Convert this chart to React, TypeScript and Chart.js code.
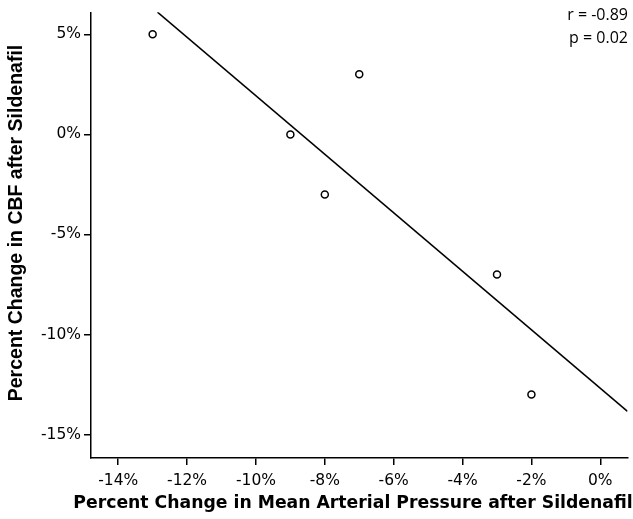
import React, { useEffect, useRef } from "react";
import { Chart, registerables } from "chart.js";

Chart.register(...registerables);

const mapChange = [-13, -9, -8, -7, -3, -2];
const cbfChange = [5, 0, -3, 3, -7, -13];
const fitX = [-12.86, 0.79];
const fitY = [6.11, -13.84];
const xTickValues = [-14, -12, -10, -8, -6, -4, -2, 0];
const yTickValues = [-15, -10, -5, 0, 5];
const statLines = ["r = -0.89", "p = 0.02"];
const xTitle = "Percent Change in Mean Arterial Pressure after Sildenafil";
const yTitle = "Percent Change in CBF after Sildenafil";

const overlayPlugin = {
  id: "overlay",
  afterDraw(chart: any) {
    const ctx = chart.ctx;
    ctx.save();
    ctx.fillStyle = "#000";
    // stats
    ctx.font = "16px 'Open Sans', 'DejaVu Sans', sans-serif";
    ctx.textAlign = "right";
    ctx.textBaseline = "middle";
    statLines.forEach((t, i) => ctx.fillText(t, 628, 15 + i * 23));
    // x title
    ctx.font = "bold 17.25px 'DejaVu Sans', sans-serif";
    ctx.textAlign = "center";
    ctx.fillText(xTitle, 353, 504);
    // y title
    ctx.translate(17, 223);
    ctx.rotate(-Math.PI / 2);
    ctx.font = "bold 19.5px 'Liberation Sans', Arial, sans-serif";
    ctx.fillText(yTitle, 0, 0);
    ctx.restore();
  },
};

export default function App() {
  const ref = useRef<HTMLCanvasElement>(null);
  useEffect(() => {
    document.body.style.margin = "0";
    const chart = new Chart(ref.current!, {
      type: "scatter",
      data: {
        datasets: [
          {
            type: "line",
            data: fitX.map((x, i) => ({ x, y: fitY[i] })),
            borderColor: "#000",
            borderWidth: 1.5,
            pointRadius: 0,
            fill: false,
          } as any,
          {
            data: mapChange.map((x, i) => ({ x, y: cbfChange[i] })),
            pointRadius: 3.5,
            pointBorderWidth: 1.5,
            pointBorderColor: "#000",
            pointBackgroundColor: "#fff",
          },
        ],
      },
      options: {
        animation: false,
        responsive: false,
        layout: { padding: { top: 11, right: 3, left: 0, bottom: 0 } },
        plugins: { legend: { display: false }, tooltip: { enabled: false } },
        scales: {
          x: {
            type: "linear",
            min: -14.79,
            max: 0.79,
            afterBuildTicks: (s: any) => {
              s.ticks = xTickValues.map((v) => ({ value: v }));
            },
            afterFit: (s: any) => {
              s.height = 61;
            },
            grid: { drawOnChartArea: false, drawTicks: true, tickLength: 7, color: "#000", lineWidth: 1.5 },
            border: { display: true, color: "#000", width: 1.5 },
            ticks: {
              color: "#000",
              font: { family: "'DejaVu Sans', sans-serif", size: 15.5 },
              padding: 7,
              maxRotation: 0,
              callback: (v: any) => v + "%",
            },
          },
          y: {
            type: "linear",
            min: -16.17,
            max: 6.1,
            afterBuildTicks: (s: any) => {
              s.ticks = yTickValues.map((v) => ({ value: v }));
            },
            afterFit: (s: any) => {
              s.width = 91;
            },
            grid: { drawOnChartArea: false, drawTicks: true, tickLength: 7, color: "#000", lineWidth: 1.5 },
            border: { display: true, color: "#000", width: 1.5 },
            ticks: {
              color: "#000",
              font: { family: "'DejaVu Sans', sans-serif", size: 15.5 },
              padding: 3,
              callback: (v: any) => v + "%",
            },
          },
        },
      },
      plugins: [overlayPlugin],
    } as any);
    return () => chart.destroy();
  }, []);
  return (
    <div style={{ width: 633, height: 519 }}>
      <canvas ref={ref} width={633} height={519} style={{ display: "block" }} />
    </div>
  );
}
